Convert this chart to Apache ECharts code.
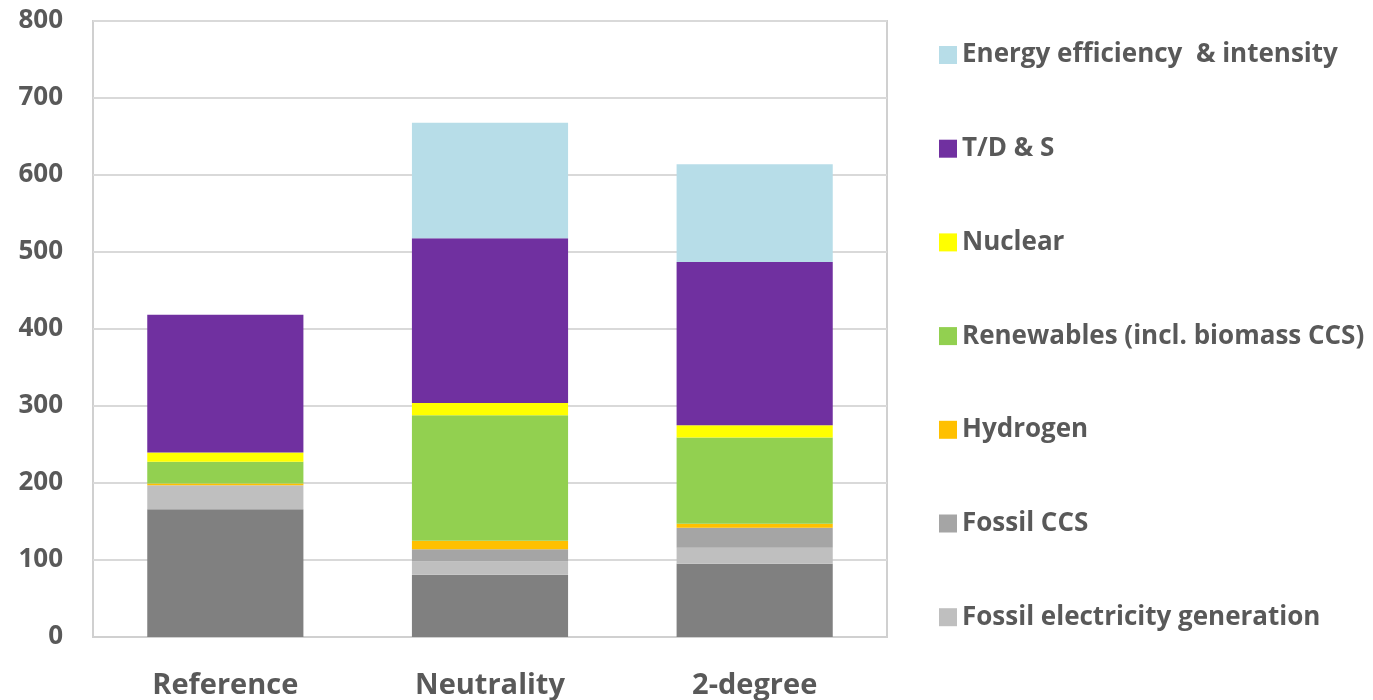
<!DOCTYPE html>
<html>
<head>
<meta charset="utf-8">
<script src="https://cdn.jsdelivr.net/npm/echarts@6/dist/echarts.min.js"></script>
<style>
  html, body { margin: 0; padding: 0; background: #ffffff; }
  #chart { width: 1373px; height: 700px; }
</style>
</head>
<body>
<div id="chart"></div>
<script>
// Scenarios on the x axis
const categories = ['Reference', 'Neutrality', '2-degree'];

// Stacked components, bottom to top
const fossilFuels      = [166, 81, 95];
const fossilElectric   = [31, 17, 21];
const fossilCCS        = [0, 16, 26];
const hydrogen         = [2.5, 11, 5];
const renewables       = [28, 163, 112];
const nuclear          = [12, 16, 16];
const tdStorage        = [179, 214, 212];
const efficiency       = [0, 150, 127];

const yTicks = { min: 0, max: 800, interval: 100 };

const FONT = '"Open Sans"';
const TEXT = '#595959';

const seriesDefs = [
  { name: 'Fossil fuels', data: fossilFuels, color: '#808080' },
  { name: 'Fossil electricity generation', data: fossilElectric, color: '#bfbfbf' },
  { name: 'Fossil CCS', data: fossilCCS, color: '#a5a5a5' },
  { name: 'Hydrogen', data: hydrogen, color: '#ffc000' },
  { name: 'Renewables (incl. biomass CCS)', data: renewables, color: '#92d050' },
  { name: 'Nuclear', data: nuclear, color: '#ffff00' },
  { name: 'T/D & S', data: tdStorage, color: '#7030a0' },
  { name: 'Energy efficiency  & intensity', data: efficiency, color: '#b7dde8' }
];

// Legend lists the top series first, without the base fossil fuel block
const legendOrder = seriesDefs.slice(1).map(s => s.name).reverse();

const chart = echarts.init(document.getElementById('chart'), null, { renderer: 'canvas' });

chart.setOption({
  animation: false,
  backgroundColor: '#ffffff',
  grid: {
    left: 93, right: 486, top: 21, bottom: 63,
    show: true, borderColor: '#d0d0d0', borderWidth: 2
  },
  legend: {
    data: legendOrder,
    orient: 'vertical',
    left: 934,
    top: 37,
    itemWidth: 18,
    itemHeight: 18,
    itemGap: 67.7,
    icon: 'rect',
    selectedMode: false,
    textStyle: { fontFamily: FONT, fontWeight: 'bold', fontSize: 26, color: TEXT, padding: [0, 0, 0, 0] }
  },
  xAxis: {
    type: 'category',
    data: categories,
    axisLine: { show: true, lineStyle: { color: '#d0d0d0', width: 2 } },
    axisTick: { show: false },
    axisLabel: { fontFamily: FONT, fontWeight: 'bold', fontSize: 29, color: TEXT, margin: 34 }
  },
  yAxis: {
    type: 'value',
    min: yTicks.min, max: yTicks.max, interval: yTicks.interval,
    axisLine: { show: false },
    axisTick: { show: false },
    splitLine: { lineStyle: { color: '#d9d9d9', width: 2 } },
    axisLabel: { fontFamily: FONT, fontWeight: 'bold', fontSize: 26, color: TEXT, margin: 30 }
  },
  series: seriesDefs.map(s => ({
    name: s.name,
    type: 'bar',
    stack: 'total',
    data: s.data,
    barWidth: '59%',
    itemStyle: { color: s.color },
    emphasis: { disabled: true }
  }))
});
</script>
</body>
</html>
